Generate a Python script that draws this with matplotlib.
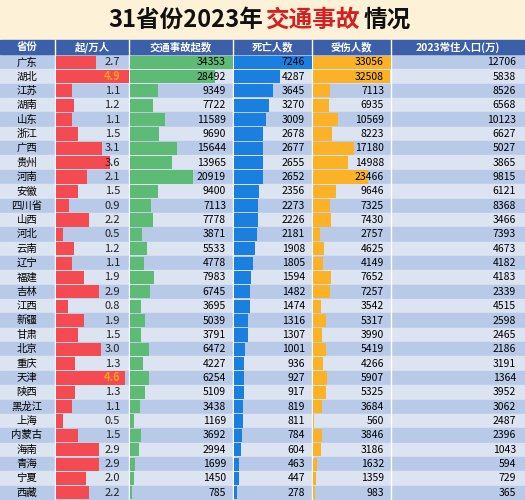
import matplotlib
matplotlib.use("Agg")
import matplotlib.pyplot as plt

plt.rcParams['font.family'] = ['Noto Sans CJK SC', 'DejaVu Sans']

provinces = ["广东","湖北","江苏","湖南","山东","浙江","广西","贵州","河南","安徽","四川省","山西","河北","云南","辽宁","福建","吉林","江西","新疆","甘肃","北京","重庆","天津","陕西","黑龙江","上海","内蒙古","海南","青海","宁夏","西藏"]
rate = [2.7,4.9,1.1,1.2,1.1,1.5,3.1,3.6,2.1,1.5,0.9,2.2,0.5,1.2,1.1,1.9,2.9,0.8,1.9,1.5,3.0,1.3,4.6,1.3,1.1,0.5,1.5,2.9,2.9,2.0,2.2]
accidents = [34353,28492,9349,7722,11589,9690,15644,13965,20919,9400,7113,7778,3871,5533,4778,7983,6745,3695,5039,3791,6472,4227,6254,5109,3438,1169,3692,2994,1699,1450,785]
deaths = [7246,4287,3645,3270,3009,2678,2677,2655,2652,2356,2273,2226,2181,1908,1805,1594,1482,1474,1316,1307,1001,936,927,917,819,811,784,604,463,447,278]
injuries = [33056,32508,7113,6935,10569,8223,17180,14988,23466,9646,7325,7430,2757,4625,4149,7652,7257,3542,5317,3990,5419,4266,5907,5325,3684,560,3846,3186,1632,1359,983]
population = [12706,5838,8526,6568,10123,6627,5027,3865,9815,6121,8368,3466,7393,4673,4182,4183,2339,4515,2598,2465,2186,3191,1364,3952,3062,2487,2396,1043,594,729,365]
headers = ["省份","起/万人","交通事故起数","死亡人数","受伤人数","2023常住人口(万)"]
title_parts = [("31省份2023年", '#111111'), ("交通事故", '#d42020'), ("情况", '#111111')]

fig = plt.figure(figsize=(5.25,5.0), dpi=100)
ax = fig.add_axes([0,0,1,1])
ax.set_xlim(0,525); ax.set_ylim(500,0); ax.axis('off')
fig.patch.set_facecolor('white')

# title
ax.add_patch(plt.Rectangle((0,0),525,39,color='#fdf1d8',zorder=0))
r = fig.canvas.get_renderer()
x = 108
for s, c in title_parts:
    t = ax.text(x,20,s,fontsize=17,fontweight='bold',ha='left',va='center',color=c)
    bb = t.get_window_extent(r)
    x += bb.width + 3

cols = [0,55,129,233,312,391,524]
hy0, hy1 = 40, 54
ax.add_patch(plt.Rectangle((0,hy0),524,hy1-hy0,color='#3b5fa8',zorder=1))
for i,h in enumerate(headers):
    ax.text((cols[i]+cols[i+1])/2,(hy0+hy1)/2,h,color='white',fontsize=7.5,fontweight='bold',ha='center',va='center',zorder=3)
for c in cols[1:-1]:
    ax.plot([c,c],[hy0,500],color='white',lw=1,zorder=2)

n = len(provinces)
rh = (500-55)/n
y = [55+rh*(i+0.5) for i in range(n)]
for i in range(n):
    ax.add_patch(plt.Rectangle((0,55+rh*i),524,rh,color='#b9c9e8' if i%2==0 else '#dce3f1',zorder=0))

def bars(vals, x0, x1, vmax, color):
    w = [(x1-x0)*v/vmax for v in vals]
    ax.barh(y, w, left=x0+1, height=rh*0.92, color=color, zorder=2)

bars(rate,55,128,4.9,'#f44b52')
bars(accidents,129,232,34353,'#5dbb76')
bars(deaths,233,311,7246,'#1b7fe0')
bars(injuries,312,390,33056,'#fbb227')

for i in range(n):
    ax.text(27,y[i],provinces[i],ha='center',va='center',fontsize=7.5,zorder=3)
    ax.text(120,y[i],f"{rate[i]:.1f}",ha='right',va='center',fontsize=8,zorder=3,
            color='#f7a21b' if rate[i]>4 else '#222222',fontweight='bold' if rate[i]>4 else 'normal')
    ax.text(226,y[i],str(accidents[i]),ha='right',va='center',fontsize=7.5,zorder=3)
    ax.text(305,y[i],str(deaths[i]),ha='right',va='center',fontsize=7.5,zorder=3)
    ax.text(384,y[i],str(injuries[i]),ha='right',va='center',fontsize=7.5,zorder=3)
    ax.text(516,y[i],str(population[i]),ha='right',va='center',fontsize=7.5,zorder=3)

fig.savefig("out.png", dpi=100)
